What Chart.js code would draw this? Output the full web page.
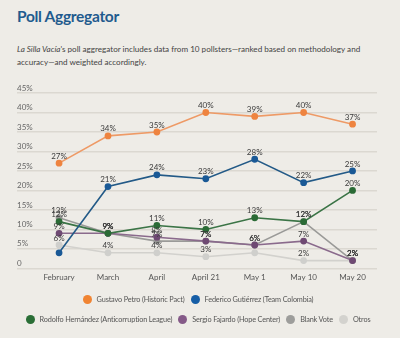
<!DOCTYPE html>
<html>
<head>
<meta charset="utf-8">
<script src="https://cdn.jsdelivr.net/npm/chart.js@4"></script>
<style>
  html, body { margin: 0; padding: 0; }
  body { width: 400px; height: 338px; background: #eeece7; position: relative; overflow: hidden; font-family: Lato, "Noto Sans", sans-serif; }
  #title { position: absolute; left: 17px; top: 7px; font-size: 15.5px; font-weight: bold; color: #1f5b8e; letter-spacing: -0.3px; }
  #intro { position: absolute; left: 17px; top: 43px; width: 375px; font-size: 8.1px; line-height: 13px; color: #444; }
  #wrap { position: absolute; left: 0; top: 80px; width: 400px; height: 214px; }
  #legend { position: absolute; left: 0; top: 289px; width: 396px; font-size: 7.3px; letter-spacing: -0.15px; color: #555; }
  #legend .row { display: flex; justify-content: center; height: 20px; align-items: center; }
  #legend .item { display: flex; align-items: center; margin: 0 3px; white-space: nowrap; }
  #legend .dot { width: 9px; height: 9px; border-radius: 50%; margin-right: 5px; }
</style>
</head>
<body>
<div id="title">Poll Aggregator</div>
<div id="intro"><i>La Silla Vacía</i>'s poll aggregator includes data from 10 pollsters—ranked based on methodology and<br>accuracy—and weighted accordingly.</div>
<div id="wrap"><canvas id="chart"></canvas></div>
<div id="legend"></div>
<script>
'use strict';

// ******* data *******
const months = ['February', 'March', 'April', 'April 21', 'May 1', 'May 10', 'May 20'];
const yTicks = [0, 5, 10, 15, 20, 25, 30, 35, 40, 45];

const petro     = [27, 34, 35, 40, 39, 40, 37];
const gutierrez = [4, 21, 24, 23, 28, 22, 25];
const hernandez = [12, 9, 11, 10, 13, 12, 20];
const fajardo   = [9, 9, 8, 7, 6, 7, 2];
const blankVote = [13, 9, 7, 7, 6, 12, 2];
const otros     = [6, 4, 4, 3, 4, 2, 2];

// points that carry no value label
const gutierrezNoLabel = [0];
const otrosNoLabel = [4];

// legend wraps after this many entries
const legendBreak = 2;

const FONT = 'Lato, "Noto Sans", sans-serif';

function toPoints(values){
  return values.map((v, i) => ({x: i, y: v}));
}

function series(label, values, line, dot, noLabel){
  return {
    label: label,
    data: toPoints(values),
    borderColor: line,
    backgroundColor: dot,
    pointBackgroundColor: dot,
    pointBorderColor: dot,
    borderWidth: 1.6,
    pointRadius: 2.6,
    pointHoverRadius: 2.6,
    tension: 0,
    noLabel: noLabel || []
  };
}

// ******* value labels above each point *******
const valueLabels = {
  id: 'valueLabels',
  afterDatasetsDraw(chart){
    const ctx = chart.ctx;
    ctx.save();
    ctx.font = '8px ' + FONT;
    ctx.fillStyle = '#3a3a3a';
    ctx.textAlign = 'center';
    ctx.textBaseline = 'bottom';
    chart.data.datasets.forEach((ds, d) => {
      let meta = chart.getDatasetMeta(d);
      meta.data.forEach((pt, i) => {
        if(ds.noLabel.includes(i)) return;
        ctx.fillText(ds.data[i].y + '%', pt.x, pt.y - 3);
      });
    });
    ctx.restore();
  }
};

// ******* legend built from the datasets *******
const htmlLegend = {
  id: 'htmlLegend',
  afterUpdate(chart){
    const box = document.getElementById('legend');
    box.innerHTML = '';
    let row;
    chart.data.datasets.forEach((ds, i) => {
      if(i === 0 || i === legendBreak){
        row = document.createElement('div');
        row.className = 'row';
        box.appendChild(row);
      }
      let item = document.createElement('div');
      item.className = 'item';
      let dot = document.createElement('span');
      dot.className = 'dot';
      dot.style.background = ds.legendColor;
      let txt = document.createElement('span');
      txt.textContent = ds.label;
      item.appendChild(dot);
      item.appendChild(txt);
      row.appendChild(item);
    });
  }
};

const datasets = [
  series('Gustavo Petro (Historic Pact)', petro, '#ee9a66', '#ee8440'),
  series('Federico Gutiérrez (Team Colombia)', gutierrez, '#235a87', '#1a5996', gutierrezNoLabel),
  series('Rodolfo Hernández (Anticorruption League)', hernandez, '#3b7446', '#2b6b36'),
  series('Sergio Fajardo (Hope Center)', fajardo, '#8a6a8c', '#6f4a73'),
  series('Blank Vote', blankVote, '#9a9a98', '#949492'),
  series('Otros', otros, '#d2d1cd', '#cfcfcc', otrosNoLabel)
];
const legendColors = ['#f08432', '#165ea6', '#2a6e36', '#855a88', '#9d9d9b', '#d3d2ce'];
datasets.forEach((ds, i) => { ds.legendColor = legendColors[i]; });

const ctx = document.getElementById('chart').getContext('2d');

new Chart(ctx, {
  type: 'line',
  data: { datasets: datasets },
  options: {
    responsive: true,
    maintainAspectRatio: false,
    animation: false,
    layout: { padding: { left: 17, right: 23, top: 13, bottom: 8 } },
    scales: {
      x: {
        type: 'linear',
        min: -0.86,
        max: 6.5,
        afterBuildTicks: s => { s.ticks = months.map((m, i) => ({value: i})); },
        ticks: {
          callback: v => months[v],
          color: '#555',
          font: { size: 8, family: FONT },
          padding: 4,
          maxRotation: 0
        },
        grid: { display: false, drawTicks: false, tickLength: 0 },
        border: { display: false }
      },
      y: {
        min: 0,
        max: 45,
        afterBuildTicks: s => { s.ticks = yTicks.map(v => ({value: v})); },
        ticks: {
          mirror: true,
          padding: 0,
          labelOffset: -5,
          callback: v => v === 0 ? '0' : v + '%',
          color: '#666',
          font: { size: 8, family: FONT }
        },
        grid: { color: '#dbd8d1', lineWidth: 1.5, drawTicks: false },
        border: { display: false }
      }
    },
    plugins: {
      legend: { display: false },
      tooltip: { enabled: false }
    }
  },
  plugins: [valueLabels, htmlLegend]
});
</script>
</body>
</html>
